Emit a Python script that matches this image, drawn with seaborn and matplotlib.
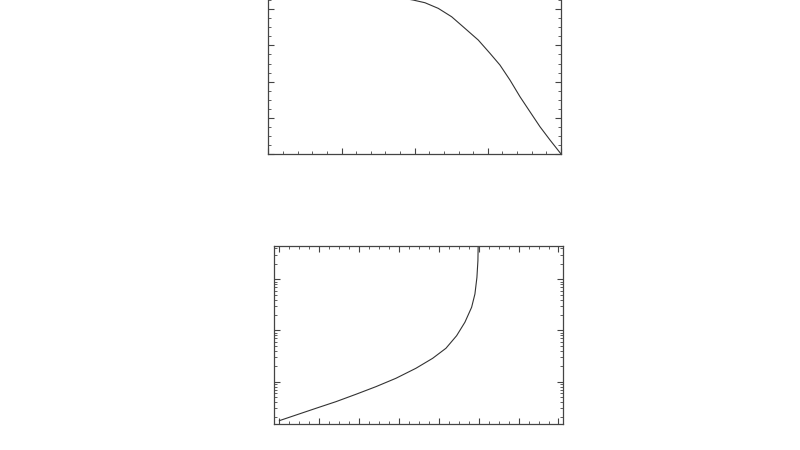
import matplotlib
matplotlib.use("Agg")
import matplotlib.pyplot as plt
from matplotlib.ticker import MultipleLocator, LogLocator, NullFormatter
import seaborn as sns
import pandas as pd

# top panel: falling curve (values in units of the major ticks)
top_x = [0.0, 1.0, 1.5, 1.8, 1.981, 2.141, 2.322, 2.505, 2.687, 2.869, 3.029,
         3.165, 3.302, 3.439, 3.575, 3.712, 3.849, 4.0]
top_y = [4.52, 4.48, 4.40, 4.32, 4.254, 4.18, 4.025, 3.793, 3.472, 3.149, 2.782,
         2.459, 2.044, 1.583, 1.169, 0.754, 0.387, 0.0]

# bottom panel: rising curve on log y axis
bot_x = [0.0, 0.419, 0.920, 1.421, 1.922, 2.423, 2.925, 3.426, 3.845, 4.178,
         4.446, 4.654, 4.822, 4.905, 4.955, 4.980, 4.987, 4.988]
bot_y = [0.173, 0.223, 0.302, 0.407, 0.567, 0.799, 1.165, 1.827, 2.86, 4.49,
         7.91, 14.5, 28.4, 51.6, 109, 231, 489, 600]

sns.set_style("ticks")
fig = plt.figure(figsize=(8, 4.5), dpi=100)


def style_axes(ax):
    for s in ax.spines.values():
        s.set_linewidth(0.9)
        s.set_color("#444444")
    ax.tick_params(which="both", direction="in", top=True, right=True,
                   labelbottom=False, labelleft=False, colors="#444444")
    ax.tick_params(which="major", length=4, width=0.8)
    ax.tick_params(which="minor", length=2, width=0.6)
    ax.set_xlabel("")
    ax.set_ylabel("")


ax1 = fig.add_axes([0.3354, 0.6578, 0.3659, 0.3956])
sns.lineplot(data=pd.DataFrame({"x": top_x, "y": top_y}), x="x", y="y",
             ax=ax1, color="#333333", linewidth=0.8, sort=False)
ax1.set_xlim(0, 4)
ax1.set_ylim(0, 4.92)
ax1.xaxis.set_major_locator(MultipleLocator(1))
ax1.xaxis.set_minor_locator(MultipleLocator(0.2))
ax1.yaxis.set_major_locator(MultipleLocator(1))
ax1.yaxis.set_minor_locator(MultipleLocator(0.25))
style_axes(ax1)

ax2 = fig.add_axes([0.3421, 0.0571, 0.362, 0.3962])
sns.lineplot(data=pd.DataFrame({"x": bot_x, "y": bot_y}), x="x", y="y",
             ax=ax2, color="#333333", linewidth=0.8, sort=False)
ax2.set_yscale("log")
ax2.set_xlim(-0.14, 7.12)
ax2.set_ylim(0.147, 447)
ax2.xaxis.set_major_locator(MultipleLocator(1))
ax2.xaxis.set_minor_locator(MultipleLocator(0.25))
ax2.yaxis.set_major_locator(LogLocator(base=10))
ax2.yaxis.set_minor_locator(LogLocator(base=10, subs=range(2, 10)))
ax2.yaxis.set_minor_formatter(NullFormatter())
style_axes(ax2)

fig.savefig("out.png", dpi=100)
